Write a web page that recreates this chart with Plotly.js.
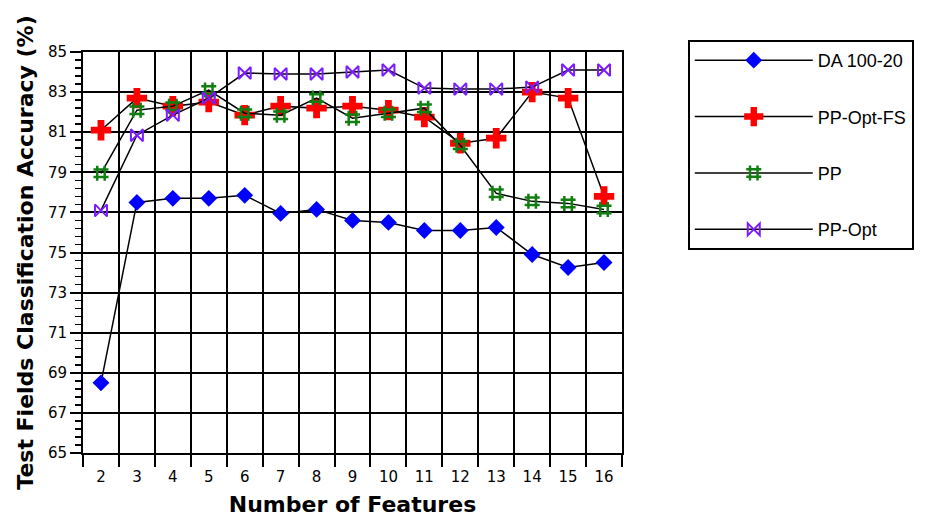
<!DOCTYPE html>
<html>
<head>
<meta charset="utf-8">
<script src="https://cdn.plot.ly/plotly-3.0.1.min.js"></script>
<style>
  html, body { margin: 0; padding: 0; background: #ffffff; }
  #chart { width: 936px; height: 518px; }
</style>
</head>
<body>
<div id="chart"></div>
<script>
// Number of features used by each classifier
const features = [2, 3, 4, 5, 6, 7, 8, 9, 10, 11, 12, 13, 14, 15, 16];

// Test-field classification accuracy (%) per method
const da10020  = [68.5, 77.5, 77.7, 77.7, 77.85, 76.95, 77.15, 76.6, 76.5, 76.1, 76.1, 76.25, 74.9, 74.25, 74.5];
const ppOptFs  = [81.1, 82.7, 82.3, 82.5, 81.85, 82.3, 82.2, 82.3, 82.1, 81.75, 80.45, 80.7, 83.0, 82.7, 77.8];
const pp       = [78.95, 82.1, 82.3, 83.1, 81.95, 81.85, 82.7, 81.7, 81.95, 82.2, 80.35, 77.95, 77.55, 77.45, 77.15];
const ppOpt    = [77.1, 80.85, 81.85, 82.7, 83.95, 83.9, 83.9, 84.0, 84.1, 83.2, 83.15, 83.15, 83.25, 84.1, 84.1];

const seriesNames = ['DA 100-20', 'PP-Opt-FS', 'PP', 'PP-Opt'];
const yTicks = [65, 67, 69, 71, 73, 75, 77, 79, 81, 83, 85];

const tickFont = { family: 'DejaVu Sans, sans-serif', size: 15, color: '#000' };
const titleFont = { family: 'DejaVu Sans, sans-serif', size: 22, color: '#000', weight: 'bold' };

function series(name, ys, marker, group) {
  return {
    type: 'scatter',
    mode: 'lines+markers',
    name: name,
    x: features,
    y: ys,
    legendgroup: group,
    line: { color: '#000000', width: 1.5 },
    marker: marker,
    cliponaxis: false
  };
}

const traces = [
  series(seriesNames[0], da10020, { symbol: 'diamond', size: 13, color: '#0000ff', line: { width: 0 } }, 'g1'),
  series(seriesNames[1], ppOptFs, { symbol: 'cross', size: 17, color: '#ff0000', line: { width: 0 } }, 'g2'),
  series(seriesNames[2], pp, { symbol: 'hash-open', size: 15, color: '#107e10', line: { width: 2.5, color: '#107e10' } }, 'g3'),
  series(seriesNames[3], ppOpt, { symbol: 'bowtie-open', size: 12, color: '#7a1cff', line: { width: 2, color: '#7a1cff' } }, 'g4')
];

const layout = {
  width: 936,
  height: 518,
  paper_bgcolor: '#ffffff',
  plot_bgcolor: '#ffffff',
  margin: { l: 83, r: 314, t: 52, b: 65 },
  font: tickFont,
  xaxis: {
    range: [1.5, 16.5],
    tickmode: 'array',
    tickvals: features,
    ticktext: features.map(String),
    ticks: '',
    ticklabelstandoff: 9,
    showgrid: false,
    zeroline: false,
    showline: true,
    linecolor: '#000',
    linewidth: 2,
    mirror: true,
    tickfont: tickFont,
    minor: {
      tickmode: 'linear',
      tick0: 1.5,
      dtick: 1,
      ticks: 'outside',
      ticklen: 12,
      tickwidth: 2,
      tickcolor: '#000',
      showgrid: true,
      gridcolor: '#000',
      gridwidth: 2
    },
    title: { text: 'Number of Features', font: titleFont, standoff: 12 }
  },
  yaxis: {
    range: [65, 85],
    tickmode: 'array',
    tickvals: yTicks,
    ticks: 'outside',
    ticklen: 11,
    tickwidth: 2,
    tickcolor: '#000',
    showgrid: true,
    gridcolor: '#000',
    gridwidth: 2,
    zeroline: false,
    showline: true,
    linecolor: '#000',
    linewidth: 2,
    mirror: true,
    tickfont: tickFont,
    minor: {
      tickmode: 'linear',
      tick0: 65,
      dtick: 0.4,
      ticks: 'outside',
      ticklen: 6,
      tickwidth: 1.5,
      tickcolor: '#000',
      showgrid: false
    },
    title: { text: 'Test Fields Classification Accuracy (%)', font: titleFont, standoff: 8 }
  },
  showlegend: true,
  legend: {
    x: 1.122,
    y: 1.03,
    xanchor: 'left',
    yanchor: 'top',
    bgcolor: '#ffffff',
    bordercolor: '#000',
    borderwidth: 2,
    font: { family: 'Liberation Sans, Arial, sans-serif', size: 18, color: '#000' },
    itemwidth: 118,
    tracegroupgap: 30,
    traceorder: 'grouped'
  }
};

Plotly.newPlot('chart', traces, layout, { staticPlot: true });
</script>
</body>
</html>
